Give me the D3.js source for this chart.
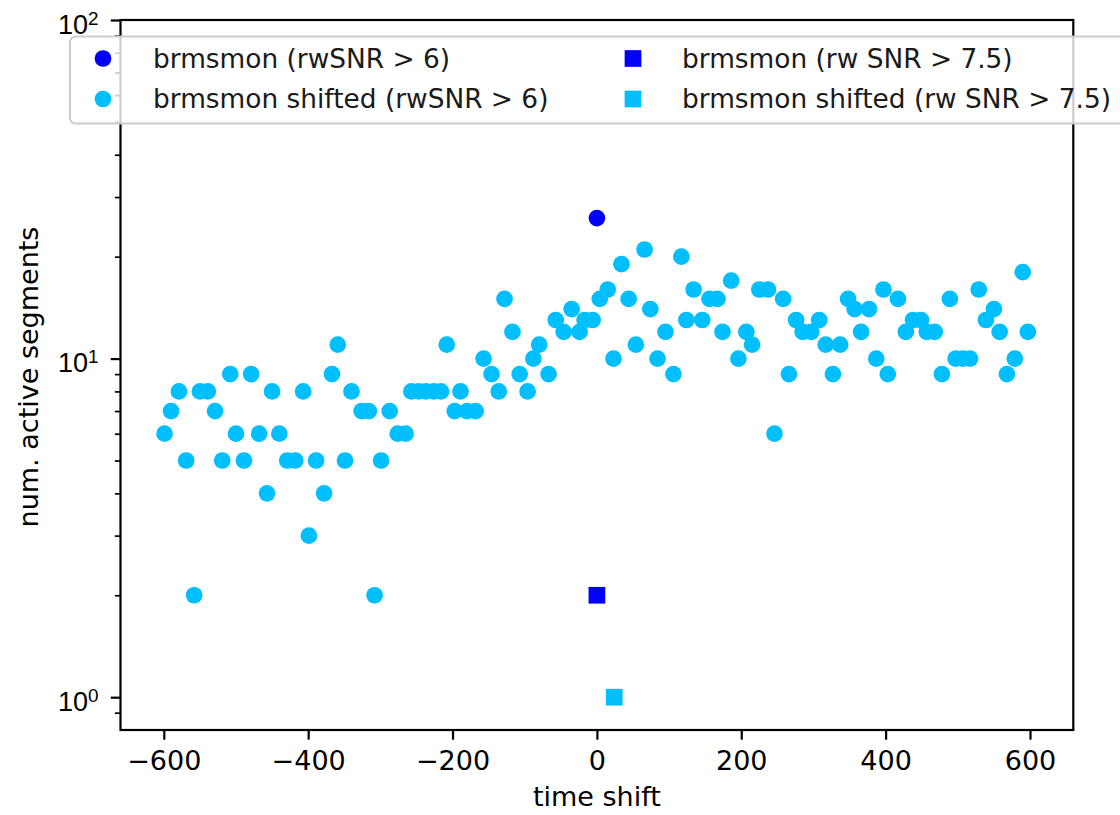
<!DOCTYPE html>
<html>
<head>
<meta charset="utf-8">
<script src="https://cdn.jsdelivr.net/npm/d3@7"></script>
<style>
  body { margin: 0; background: #fff; }
  svg { display: block; font-family: "DejaVu Sans", sans-serif; }
</style>
</head>
<body>
<svg id="fig" width="1120" height="815"></svg>
<script>
// brmsmon at zero shift
var brms6X = [0], brms6N = [26];
var brms75X = [0], brms75N = [2];
// shifted, rw SNR > 7.5 (only one non-empty)
var shift75X = [24], shift75N = [1];
// shifted, rwSNR > 6
var shift6X = [-599,-590,-579,-569,-558,-550,-539,-529,-519,-508,-500,-489,-479,-468,-457,-450,-440,-429,-418,-407,
  -399,-389,-378,-367,-359,-349,-340,-326,-316,-308,-299,-287,-276,-265,-257,-247,-237,-226,-216,-208,
  -197,-189,-180,-168,-157,-146,-136,-128,-117,-107,-96,-88,-80,-67,-57,-46,-35,-24,-17,-6,
  4,15,23,34,44,54,66,74,84,95,106,117,124,134,146,156,167,174,186,196,
  207,215,225,237,246,258,266,276,285,297,308,317,327,337,348,357,366,377,387,397,
  403,417,428,438,449,457,468,478,489,497,507,517,529,539,550,558,568,579,590,597];
var shift6N = [6,7,8,5,2,8,8,7,5,9,6,5,9,6,4,8,6,5,5,8,
  3,5,4,9,11,5,8,7,7,2,5,7,6,6,8,8,8,8,8,11,
  7,8,7,7,10,9,8,15,12,9,8,10,11,9,13,12,14,12,13,13,
  15,16,10,19,15,11,21,14,10,12,9,20,13,16,13,15,15,12,17,10,
  12,11,16,16,6,15,9,13,12,12,13,11,9,11,15,14,12,14,10,16,
  9,15,12,13,13,12,12,9,15,10,10,10,16,13,14,12,9,10,18,12];

var xTicks = [-600,-400,-200,0,200,400,600];
var yMajor = [1,10,100];
var legendLabels = ["brmsmon (rwSNR > 6)", "brmsmon shifted (rwSNR > 6)",
                    "brmsmon (rw SNR > 7.5)", "brmsmon shifted (rw SNR > 7.5)"];

var axL = 120.5, axR = 1073.3, axT = 20, axB = 730;
var fs = 27, legFs = 26.4, ms = 16.7;
var dark = "#0000ff", light = "#00bfff";

var svg = d3.select("#fig");
svg.append("rect").attr("width",1120).attr("height",815).attr("fill","#fff");

var x = d3.scaleLinear().domain([-660,660]).range([axL,axR]);
var y = d3.scaleLog().domain([0.8,100]).range([axB,axT]);

// x axis
var gx = svg.append("g").attr("transform",`translate(0,${axB})`)
    .call(d3.axisBottom(x).tickValues(xTicks).tickSize(9.7).tickPadding(9.7));
gx.select(".domain").remove();
gx.selectAll(".tick line").attr("stroke","#000").attr("stroke-width",2.2);
gx.selectAll(".tick text").attr("font-size",fs).attr("font-family","DejaVu Sans").attr("fill","#000")
    .attr("dy",null).attr("y",40);

// y axis, minor ticks
var yMinor = y.ticks().filter(v => v > 0.85 && Math.abs(Math.log10(v) - Math.round(Math.log10(v))) > 1e-6);
var gym = svg.append("g").attr("transform",`translate(${axL},0)`)
    .call(d3.axisLeft(y).tickValues(yMinor).tickSize(5.6).tickFormat(""));
gym.select(".domain").remove();
gym.selectAll(".tick line").attr("stroke","#000").attr("stroke-width",1.7);

// y axis, major ticks
var gy = svg.append("g").attr("transform",`translate(${axL},0)`)
    .call(d3.axisLeft(y).tickValues(yMajor).tickSize(9.7).tickFormat(""));
gy.select(".domain").remove();
gy.selectAll(".tick line").attr("stroke","#000").attr("stroke-width",2.2);
gy.selectAll(".tick").each(function(d){
  var t = d3.select(this).append("text").attr("x",-22).attr("y",13)
      .attr("text-anchor","end").attr("fill","#000").attr("font-size",fs);
  t.append("tspan").text("10");
  t.append("tspan").attr("font-size",fs*0.7).attr("dy",-9).text(Math.round(Math.log10(d)));
});

// spines
svg.append("rect").attr("x",axL).attr("y",axT).attr("width",axR-axL).attr("height",axB-axT)
    .attr("fill","none").attr("stroke","#000").attr("stroke-width",2.2);

// axis labels
svg.append("text").attr("x",(axL+axR)/2).attr("y",806).attr("text-anchor","middle")
    .attr("font-size",fs).text("time shift");
svg.append("text").attr("transform",`translate(38,${(axT+axB)/2+2}) rotate(-90)`)
    .attr("text-anchor","middle").attr("font-size",fs).text("num. active segments");

// points
var shifted = d3.zip(shift6X, shift6N);
svg.append("g").selectAll("circle").data(shifted).join("circle")
    .attr("cx", d => x(d[0])).attr("cy", d => y(d[1])).attr("r", ms/2).attr("fill", light);
svg.append("g").selectAll("circle").data(d3.zip(brms6X, brms6N)).join("circle")
    .attr("cx", d => x(d[0])).attr("cy", d => y(d[1])).attr("r", ms/2).attr("fill", dark);
svg.append("g").selectAll("rect").data(d3.zip(brms75X, brms75N)).join("rect")
    .attr("x", d => x(d[0])-ms/2).attr("y", d => y(d[1])-ms/2).attr("width", ms).attr("height", ms).attr("fill", dark);
svg.append("g").selectAll("rect").data(d3.zip(shift75X, shift75N)).join("rect")
    .attr("x", d => x(d[0])-ms/2).attr("y", d => y(d[1])-ms/2).attr("width", ms).attr("height", ms).attr("fill", light);

// legend
var leg = svg.append("g");
leg.append("rect").attr("x",70).attr("y",36.5).attr("width",1080).attr("height",87).attr("rx",5.5)
    .attr("fill","#fff").attr("fill-opacity",0.8).attr("stroke","#cccccc").attr("stroke-width",2);
var items = [
  {lab: legendLabels[0], c: dark,  shape: "o", mx: 103, tx: 153, cy: 58.5},
  {lab: legendLabels[1], c: light, shape: "o", mx: 103, tx: 153, cy: 99},
  {lab: legendLabels[2], c: dark,  shape: "s", mx: 633, tx: 682, cy: 58.5},
  {lab: legendLabels[3], c: light, shape: "s", mx: 633, tx: 682, cy: 99}
];
items.forEach(function(it){
  if (it.shape == "o")
    leg.append("circle").attr("cx",it.mx).attr("cy",it.cy).attr("r",ms/2).attr("fill",it.c);
  else
    leg.append("rect").attr("x",it.mx-ms/2).attr("y",it.cy-ms/2).attr("width",ms).attr("height",ms).attr("fill",it.c);
  leg.append("text").attr("x",it.tx).attr("y",it.cy+9).attr("font-size",legFs).attr("fill","#1a1a1a").text(it.lab);
});
</script>
</body>
</html>
